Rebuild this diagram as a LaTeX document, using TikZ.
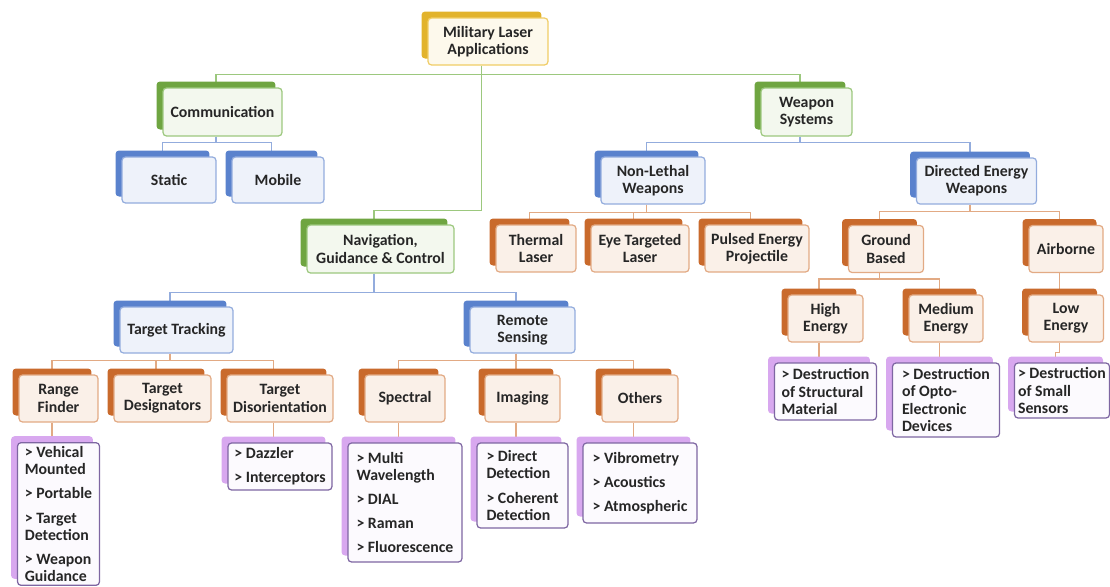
\documentclass[tikz,border=0pt]{standalone}
\usepackage{fontspec}
\setmainfont{Carlito}
\usepackage{xcolor}
\usepackage{tikz}
\usetikzlibrary{shadows,backgrounds}
\definecolor{goldBack}{HTML}{E2B32C}
\definecolor{goldLine}{HTML}{F0CD66}
\definecolor{goldFill}{HTML}{FDF9EC}
\definecolor{greenBack}{HTML}{6FA541}
\definecolor{greenLine}{HTML}{9CC87E}
\definecolor{greenFill}{HTML}{F3F8EE}
\definecolor{blueBack}{HTML}{5A82CD}
\definecolor{blueLine}{HTML}{93ACDD}
\definecolor{blueFill}{HTML}{EEF2FA}
\definecolor{orangeBack}{HTML}{C96A2C}
\definecolor{orangeLine}{HTML}{E2AA84}
\definecolor{orangeFill}{HTML}{FAF0E8}
\definecolor{violetBack}{HTML}{D8A8EF}
\definecolor{violetLine}{HTML}{7E66A2}
\definecolor{violetFill}{HTML}{FCFAFE}
\definecolor{txt}{HTML}{262626}
\tikzset{
box/.style = {rectangle, rounded corners=2pt, line width=0.7pt,
              draw=#1Line, fill=#1Fill, text=txt, align=center,
              font=\bfseries\fontsize{9}{9.8}\selectfont, inner sep=2pt,
              minimum height=0.94cm,
              copy shadow={fill=#1Back, draw=none,
                           shadow xshift=-0.13cm, shadow yshift=0.13cm}},
box/.default = orange % colour family of the box
}
\tikzset{
list/.style = {box=violet, align=left}
}
\tikzset{
link/.style = {draw=#1Line, line width=0.8pt},
link/.default = orange
}

\begin{document}
\begin{tikzpicture}[x=0.02cm, y=-0.02cm]
    \useasboundingbox (0,0) rectangle (1110,586);

    \node[box=gold, minimum width=2.4cm] (milBox) at (488,41.5) {Military Laser\\Applications};

    \node[box=green, minimum width=2.38cm, minimum height=0.96cm] (commBox) at (222.5,112) {Communication};
    \node[box=green, minimum width=1.82cm, minimum height=0.96cm] (weapBox) at (806.5,112) {Weapon\\Systems};
    \node[box=green, minimum width=2.94cm, minimum height=0.96cm] (navBox) at (380.5,249) {Navigation,\\Guidance \& Control};

    \node[box=blue, minimum width=1.88cm, minimum height=0.92cm] (staticBox) at (169,180) {Static};
    \node[box=blue, minimum width=1.84cm, minimum height=0.92cm] (mobileBox) at (278,180) {Mobile};
    \node[box=blue, minimum width=2.08cm] (nonLethBox) at (653,180.5) {Non-Lethal\\Weapons};
    \node[box=blue, minimum width=2.4cm, minimum height=0.92cm] (dewBox) at (976.5,181) {Directed Energy\\Weapons};
    \node[box=blue, minimum width=2.26cm, minimum height=0.92cm] (trackBox) at (176.5,330) {Target Tracking};
    \node[box=blue, minimum width=2.1cm, minimum height=0.92cm] (remoteBox) at (522.5,330) {Remote\\Sensing};

    \node[box, minimum width=1.6cm] (thermalBox) at (536,248.5) {Thermal\\Laser};
    \node[box, minimum width=1.96cm] (eyeBox) at (640,248.5) {Eye Targeted\\Laser};
    \node[box, minimum width=2.08cm] (pulsedBox) at (757,248.5) {Pulsed Energy\\Projectile};
    \node[box, minimum width=1.5cm] (groundBox) at (886,249) {Ground\\Based};
    \node[box, minimum width=1.48cm] (airBox) at (1066,249) {Airborne};
    \node[box, minimum width=1.5cm] (highBox) at (825.5,318.5) {High\\Energy};
    \node[box, minimum width=1.48cm] (mediumBox) at (946,318.5) {Medium\\Energy};
    \node[box, minimum width=1.5cm] (lowBox) at (1066,318.5) {Low\\Energy};
    \node[box, minimum width=1.58cm] (rangeBox) at (58.5,398.5) {Range\\Finder};
    \node[box, minimum width=1.94cm] (desigBox) at (162.5,398.5) {Target\\Designators};
    \node[box, minimum width=2.12cm] (disorBox) at (280,398.5) {Target\\Disorientation};
    \node[box, minimum width=1.6cm] (spectralBox) at (405,398.5) {Spectral};
    \node[box, minimum width=1.5cm] (imagingBox) at (522.5,398.5) {Imaging};
    \node[box, minimum width=1.52cm] (othersBox) at (640,398.5) {Others};

    \node[list, minimum width=1.64cm, minimum height=2.84cm] (rangeList) at (58.5,514) {> Vehical\\Mounted\\[4pt]> Portable\\[4pt]> Target\\Detection\\[4pt]> Weapon\\Guidance};
    \node[list, minimum width=2.08cm] (disorList) at (280,466.5) {> Dazzler\\[4pt]> Interceptors};
    \node[list, minimum width=2.28cm, minimum height=2.38cm] (spectralList) at (405,502.5) {> Multi\\Wavelength\\[4pt]> DIAL\\[4pt]> Raman\\[4pt]> Fluorescence};
    \node[list, minimum width=1.82cm, minimum height=1.7cm] (imagingList) at (522.5,485.5) {> Direct\\Detection\\[4pt]> Coherent\\Detection};
    \node[list, minimum width=2.28cm, minimum height=1.6cm] (othersList) at (640,483) {> Vibrometry\\[4pt]> Acoustics\\[4pt]> Atmospheric};
    \node[list, minimum width=2.04cm, minimum height=1.14cm] (highList) at (825.5,391.5) {> Destruction\\of Structural\\Material};
    \node[list, minimum width=2.14cm, minimum height=1.48cm] (mediumList) at (946,400) {> Destruction\\of Opto-\\Electronic\\Devices};
    \node[list, minimum width=1.88cm, minimum height=1.1cm] (lowList) at (1062,390.5) {> Destruction\\of Small\\Sensors};

    \begin{scope}[on background layer]
    \draw[link=green] ([xshift=-.13cm]milBox.south) -- ++(0pt,-.18cm) -| ([xshift=-.13cm]commBox.center);
    \draw[link=green] ([xshift=-.13cm]milBox.south) -- ++(0pt,-.18cm) -| ([xshift=-.13cm]weapBox.center);
    \draw[link=green] ([xshift=-.13cm]milBox.south) -- ++(0pt,-2.9cm) -| ([xshift=-.13cm]navBox.center);

    \draw[link=blue] ([xshift=-.13cm]commBox.south) -- ++(0pt,-.12cm) -| ([xshift=-.13cm]staticBox.center);
    \draw[link=blue] ([xshift=-.13cm]commBox.south) -- ++(0pt,-.12cm) -| ([xshift=-.13cm]mobileBox.center);
    \draw[link=blue] ([xshift=-.13cm]weapBox.south) -- ++(0pt,-.12cm) -| ([xshift=-.13cm]nonLethBox.center);
    \draw[link=blue] ([xshift=-.13cm]weapBox.south) -- ++(0pt,-.12cm) -| ([xshift=-.13cm]dewBox.center);
    \draw[link=blue] ([xshift=-.13cm]navBox.south) -- ++(0pt,-.38cm) -| ([xshift=-.13cm]trackBox.center);
    \draw[link=blue] ([xshift=-.13cm]navBox.south) -- ++(0pt,-.38cm) -| ([xshift=-.13cm]remoteBox.center);

    \draw[link] ([xshift=-.13cm]nonLethBox.south) -- ++(0pt,-.16cm) -| ([xshift=-.13cm]thermalBox.center);
    \draw[link] ([xshift=-.13cm]nonLethBox.south) -- ++(0pt,-.16cm) -| ([xshift=-.13cm]eyeBox.center);
    \draw[link] ([xshift=-.13cm]nonLethBox.south) -- ++(0pt,-.16cm) -| ([xshift=-.13cm]pulsedBox.center);
    \draw[link] ([xshift=-.13cm]dewBox.south) -- ++(0pt,-.14cm) -| ([xshift=-.13cm]groundBox.center);
    \draw[link] ([xshift=-.13cm]dewBox.south) -- ++(0pt,-.14cm) -| ([xshift=-.13cm]airBox.center);
    \draw[link] ([xshift=-.13cm]groundBox.south) -- ++(0pt,-.12cm) -| ([xshift=-.13cm]highBox.center);
    \draw[link] ([xshift=-.13cm]groundBox.south) -- ++(0pt,-.12cm) -| ([xshift=-.13cm]mediumBox.center);
    \draw[link] ([xshift=-.13cm]airBox.south) -- ([xshift=-.13cm]lowBox.center);
    \draw[link] ([xshift=-.13cm]trackBox.south) -- ++(0pt,-.14cm) -| ([xshift=-.13cm]rangeBox.center);
    \draw[link] ([xshift=-.13cm]trackBox.south) -- ++(0pt,-.14cm) -| ([xshift=-.13cm]desigBox.center);
    \draw[link] ([xshift=-.13cm]trackBox.south) -- ++(0pt,-.14cm) -| ([xshift=-.13cm]disorBox.center);
    \draw[link] ([xshift=-.13cm]remoteBox.south) -- ++(0pt,-.14cm) -| ([xshift=-.13cm]spectralBox.center);
    \draw[link] ([xshift=-.13cm]remoteBox.south) -- ++(0pt,-.14cm) -| ([xshift=-.13cm]imagingBox.center);
    \draw[link] ([xshift=-.13cm]remoteBox.south) -- ++(0pt,-.14cm) -| ([xshift=-.13cm]othersBox.center);

    \draw[link] ([xshift=-.13cm]rangeBox.south) -- ([xshift=-.13cm]rangeList.center);
    \draw[link] ([xshift=-.13cm]disorBox.south) -- ([xshift=-.13cm]disorList.center);
    \draw[link] ([xshift=-.13cm]spectralBox.south) -- ([xshift=-.13cm]spectralList.center);
    \draw[link] ([xshift=-.13cm]imagingBox.south) -- ([xshift=-.13cm]imagingList.center);
    \draw[link] ([xshift=-.13cm]othersBox.south) -- ([xshift=-.13cm]othersList.center);
    \draw[link] ([xshift=-.13cm]highBox.south) -- ([xshift=-.13cm]highList.center);
    \draw[link] ([xshift=-.13cm]mediumBox.south) -- ([xshift=-.13cm]mediumList.center);
    \draw[link] ([xshift=-.13cm]lowBox.south) -- ++(0pt,-.2cm) -| ([xshift=-.13cm]lowList.center);
    \end{scope}
\end{tikzpicture}
\end{document}
